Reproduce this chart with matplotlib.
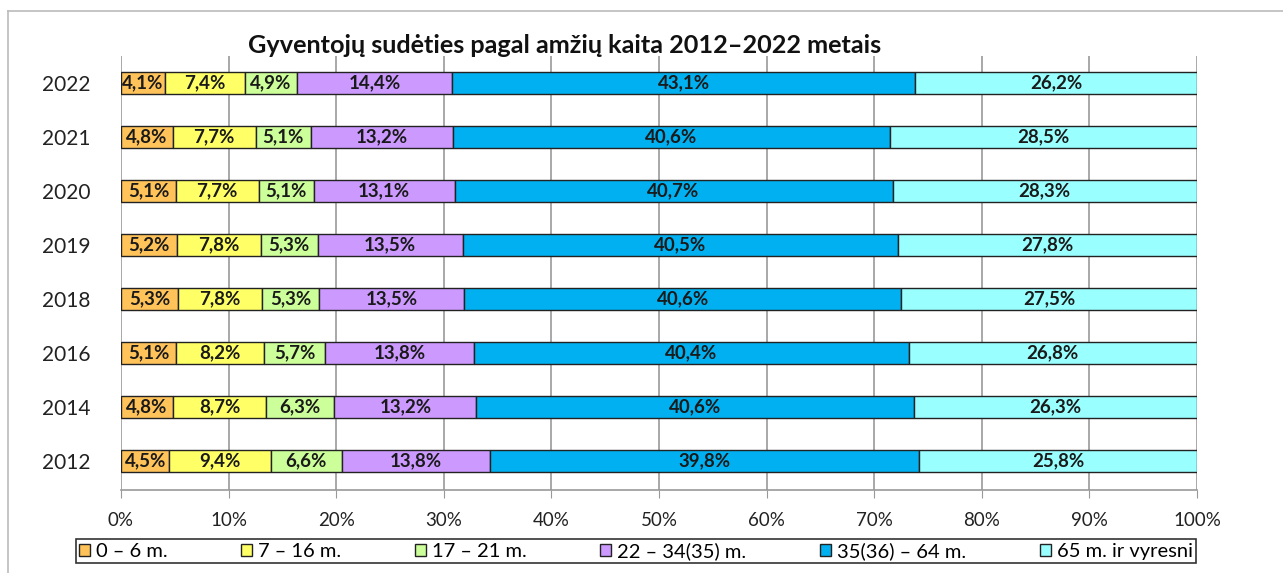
import numpy as np
import matplotlib.pyplot as plt
from matplotlib.lines import Line2D
from matplotlib.patches import Patch

plt.rcParams['font.family'] = ['Lato', 'DejaVu Sans']

years = ['2012', '2014', '2016', '2018', '2019', '2020', '2021', '2022']
groups = ['0 – 6 m.', '7 – 16 m.', '17 – 21 m.', '22 – 34(35) m.',
          '35(36) – 64 m.', '65 m. ir vyresni']
colors = ['#FFC35A', '#FFFF66', '#CCFF99', '#CC99FF', '#00B0F0', '#99FFFF']

age_0_6 = [4.5, 4.8, 5.1, 5.3, 5.2, 5.1, 4.8, 4.1]
age_7_16 = [9.4, 8.7, 8.2, 7.8, 7.8, 7.7, 7.7, 7.4]
age_17_21 = [6.6, 6.3, 5.7, 5.3, 5.3, 5.1, 5.1, 4.9]
age_22_34 = [13.8, 13.2, 13.8, 13.5, 13.5, 13.1, 13.2, 14.4]
age_35_64 = [39.8, 40.6, 40.4, 40.6, 40.5, 40.7, 40.6, 43.1]
age_65 = [25.8, 26.3, 26.8, 27.5, 27.8, 28.3, 28.5, 26.2]

data = np.array([age_0_6, age_7_16, age_17_21, age_22_34, age_35_64, age_65])
shares = data / data.sum(axis=0) * 100  # 100% stacked

fig = plt.figure(figsize=(12.83, 5.73), dpi=100)
ax = fig.add_axes([0.0943, 0.145, 0.8387, 0.757])

y = np.arange(len(years))
left = np.zeros(len(years))
for i in range(len(groups)):
    ax.barh(y, shares[i], left=left, height=0.41, color=colors[i],
            edgecolor='#222222', linewidth=1.0, zorder=3)
    for j in range(len(years)):
        txt = f'{data[i, j]:.1f}%'.replace('.', ',')
        ax.text(left[j] + shares[i, j] / 2, y[j], txt, ha='center', va='center',
                fontsize=13.5, fontweight='bold', color='#1a1a1a', zorder=4)
    left += shares[i]

ax.set_xlim(0, 100)
ax.set_ylim(-0.54, 7.5)
ax.set_xticks(np.arange(0, 101, 10))
ax.set_xticklabels([f'{v}%' for v in range(0, 101, 10)], fontsize=13.5, color='#222222')
ax.set_yticks(y)
ax.set_yticklabels(years, fontsize=15, color='#222222')
ax.tick_params(axis='y', length=0, pad=22)
ax.tick_params(axis='x', length=6, color='#999999', pad=10)
ax.grid(axis='x', color='#999999', linewidth=1.2, zorder=0)
for s in ['top', 'right', 'left']:
    ax.spines[s].set_visible(False)
ax.spines['bottom'].set_color('#999999')
ax.spines['bottom'].set_linewidth(1.2)

fig.text(0.44, 0.92, 'Gyventojų sudėties pagal amžių kaita 2012–2022 metais',
         ha='center', va='center', fontsize=18.2, fontweight='bold', color='#111111')

handles = [Patch(facecolor=c, edgecolor='#222222', linewidth=1.0) for c in colors]
leg = fig.legend(handles, groups, loc='center', bbox_to_anchor=(0.4957, 0.0384),
                 ncol=6, fontsize=14.5, frameon=True, fancybox=False,
                 handlelength=0.55, handleheight=0.55, handletextpad=0.3,
                 columnspacing=3.65, borderpad=0.15, borderaxespad=0)
leg.get_frame().set_edgecolor('#000000')
leg.get_frame().set_linewidth(1.2)

# spreadsheet-style border lines
fig.add_artist(Line2D([8 / 1283, 8 / 1283], [0, 1 - 11 / 573], color='#bbbbbb', linewidth=1.2))
fig.add_artist(Line2D([8 / 1283, 1], [1 - 11 / 573, 1 - 11 / 573], color='#bbbbbb', linewidth=1.2))

fig.savefig('out.png', dpi=100)
